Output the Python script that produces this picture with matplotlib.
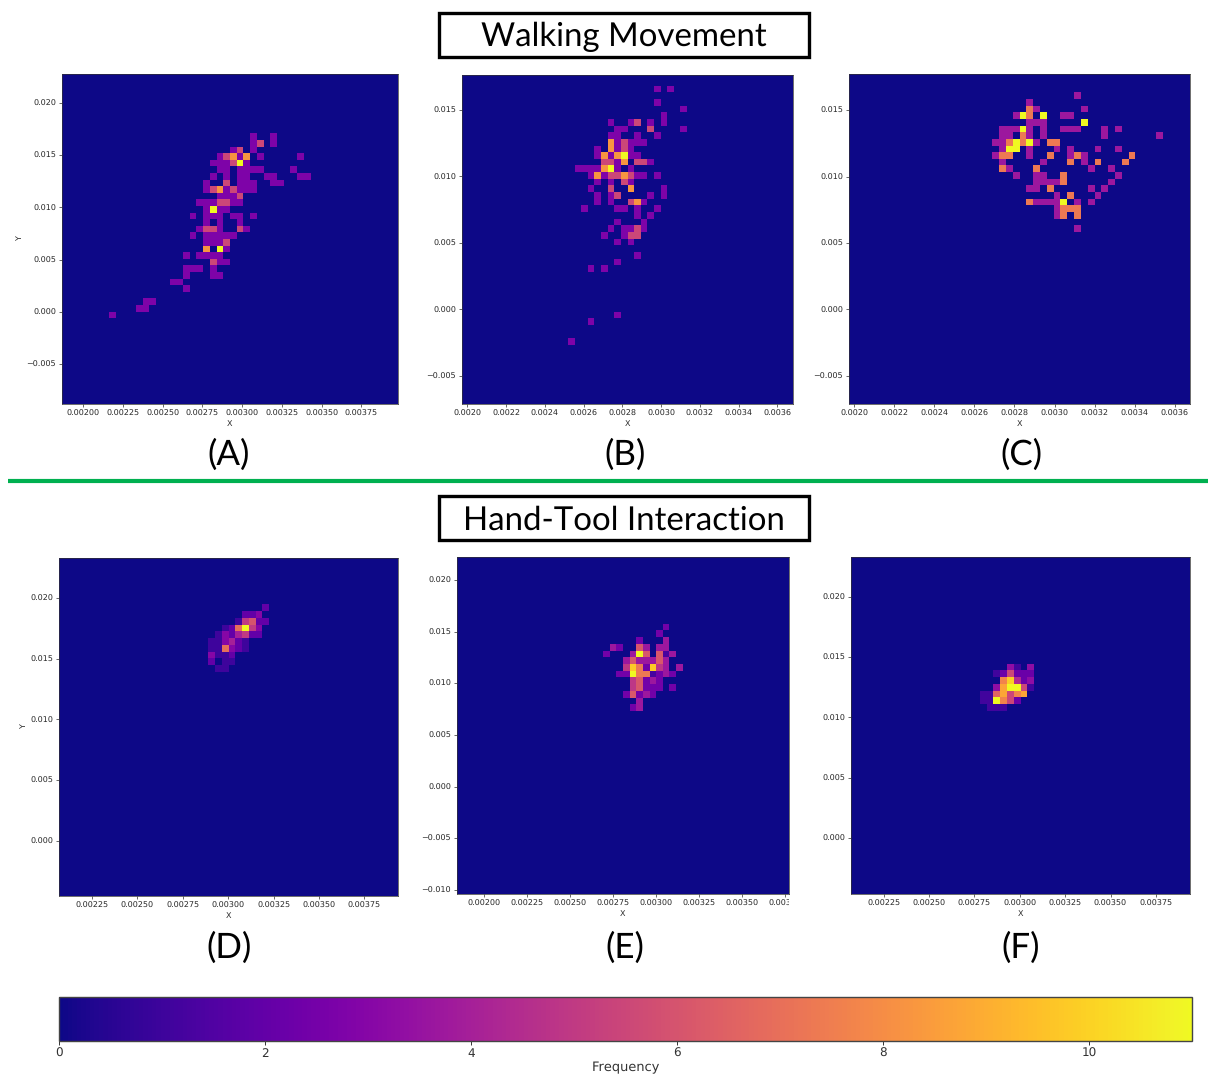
#!/usr/bin/env python3
# -*- coding: utf-8 -*-
"""Heatmaps of X/Y values: walking movement vs hand-tool interaction."""

import numpy as np
import matplotlib
matplotlib.use("Agg")
import matplotlib.pyplot as plt
from matplotlib.cm import ScalarMappable
from matplotlib.colors import Normalize
from matplotlib.patches import Rectangle
from matplotlib.transforms import Bbox

plt.rcParams['text.hinting'] = 'no_hinting'
plt.rcParams['text.hinting_factor'] = 1

W, H = 1208, 1075
N_BINS = 50

# non-empty rows of each histogram: (row from top, first column, counts in hex)
cells_a = [
    (9, 28, "1001"), (10, 28, "1201"), (11, 25, "1201"),
    (12, 23, "1231301000001"), (13, 22, "111241"), (14, 23, "110111100001"),
    (15, 22, "101011001100011"), (16, 21, "100201110011"), (17, 21, "12312111"),
    (18, 23, "1112"), (19, 20, "1112211"), (20, 21, "1411"),
    (21, 19, "1011101101"), (22, 21, "101001"), (23, 20, "12210021"),
    (24, 19, "1011111"), (25, 21, "1112"), (26, 21, "3041"),
    (27, 18, "101111"), (28, 22, "211"), (29, 18, "11101"),
    (30, 18, "100011"), (31, 16, "11"), (32, 18, "1"),
    (34, 12, "11"), (35, 11, "11"), (36, 7, "1"),
]
cells_b = [
    (1, 29, "101"), (3, 29, "1"), (4, 33, "1"), (5, 30, "1"),
    (6, 22, "100120101"), (7, 23, "11000200001"), (8, 22, "11001001"),
    (9, 22, "312111"), (10, 20, "103121"), (11, 20, "1313411"),
    (12, 21, "22130221"), (13, 17, "111134101"), (14, 19, "13122321101"),
    (15, 20, "101021"), (16, 19, "100200300001"), (17, 20, "10120000101"),
    (18, 20, "10100231"), (19, 18, "100001101001"), (20, 26, "101"),
    (21, 23, "10001"), (22, 22, "101121"), (23, 21, "100122"),
    (24, 23, "101"), (26, 26, "1"), (27, 23, "1"), (28, 19, "101"),
    (35, 23, "1"), (36, 19, "1"), (39, 16, "1"),
]
cells_c = [
    (0, 33, "1"), (1, 26, "1"), (2, 26, "210000001"), (3, 24, "132030011"),
    (4, 26, "111000003"), (5, 22, "111310100111000101"),
    (6, 22, "110210100000000100000001"), (7, 21, "1123231022"),
    (8, 22, "133010001010001001"), (9, 21, "122001002001210000002"),
    (10, 22, "1000001000201020002"), (11, 22, "21000200000001001"),
    (12, 24, "1001100200000001"), (13, 27, "111120000001"),
    (14, 26, "110200000101"), (15, 30, "1020001"), (16, 26, "2111130101"),
    (17, 30, "1222"), (18, 30, "1202"), (20, 33, "1"),
]
cells_d = [
    (0, 30, "2"), (1, 27, "223"), (2, 26, "15622"), (3, 24, "127b53"),
    (4, 23, "1324522"), (5, 22, "113421"), (6, 22, "117321"),
    (7, 22, "3112"), (8, 22, "2011"), (9, 23, "11"),
]
cells_e = [
    (0, 31, "2"), (1, 30, "2"), (2, 27, "20003"), (3, 23, "320053033"),
    (4, 22, "20003950513"), (5, 25, "3533353"), (6, 25, "486284303"),
    (7, 24, "229661232"), (8, 26, "45232"), (9, 26, "4522202"),
    (10, 25, "25232"), (11, 27, "3"), (12, 26, "23"),
]
cells_f = [
    (0, 23, "3103"), (1, 21, "125222"), (2, 22, "79423"), (3, 21, "38aa51"),
    (4, 19, "1168578"), (5, 19, "11a752"), (6, 20, "111"),
]
all_cells = [cells_a, cells_b, cells_c, cells_d, cells_e, cells_f]

panel_vmax = [4, 4, 3, 11, 9, 10]
panel_names = ["(A)", "(B)", "(C)", "(D)", "(E)", "(F)"]
section_titles = ["Walking Movement", "Hand-Tool Interaction"]

# axis limits
x_limits = [(0.001867, 0.00398), (0.001972, 0.003681), (0.001974, 0.003676),
            (0.002069, 0.003935), (0.00184, 0.003774), (0.00207, 0.003938)]
y_limits = [(-0.00883, 0.02278), (-0.00711, 0.01763), (-0.00711, 0.01771),
            (-0.00453, 0.02329), (-0.01039, 0.02223), (-0.00465, 0.02332)]
# top edge of row 0 and row height, in data units
y_tops = [0.02278, 0.017325, 0.01633, 0.01948, 0.015775, 0.014465]
y_steps = [0.000632, 0.0005, 0.0005, 0.000556, 0.00065, 0.000561]
x_ticks = [np.arange(0.0020, 0.0039, 0.00025), np.arange(0.0020, 0.00365, 0.0002),
           np.arange(0.0020, 0.00365, 0.0002), np.arange(0.00225, 0.0039, 0.00025),
           np.arange(0.0020, 0.0039, 0.00025), np.arange(0.00225, 0.0039, 0.00025)]
x_formats = ["%.5f", "%.4f", "%.4f", "%.5f", "%.5f", "%.5f"]
y_ticks = [np.arange(-0.005, 0.0201, 0.005), np.arange(-0.005, 0.0151, 0.005),
           np.arange(-0.005, 0.0151, 0.005), np.arange(0, 0.0201, 0.005),
           np.arange(-0.010, 0.0201, 0.005), np.arange(0, 0.0201, 0.005)]

# left, top, right, bottom in pixels
boxes = [(62, 74, 398, 404), (462, 75, 793, 404), (849, 74, 1190, 404),
         (59, 558, 398, 896), (457, 557, 789, 894), (851, 557, 1190, 894)]
name_pos = [(229, 455), (625, 455), (1021, 455), (229, 948), (625, 948), (1021, 948)]
TICK_SIZE = 5.7


def add_px_axes(fig, box):
    left, top, right, bottom = box
    return fig.add_axes([left / W, 1 - bottom / H, (right - left) / W, (bottom - top) / H])


def build_grid(cells):
    n_rows = max(c[0] for c in cells) + 1
    grid = np.zeros((n_rows, N_BINS))
    for row, col, counts in cells:
        for i, ch in enumerate(counts):
            grid[row, col + i] = int(ch, 16)
    return grid


def draw_panel(fig, idx):
    ax = add_px_axes(fig, boxes[idx])
    grid = build_grid(all_cells[idx])
    xlim = x_limits[idx]
    ylim = y_limits[idx]
    x_edges = np.linspace(xlim[0], xlim[1], N_BINS + 1)
    y_edges = y_tops[idx] - y_steps[idx] * np.arange(grid.shape[0] + 1)

    ax.set_facecolor(plt.cm.plasma(0.0))
    ax.pcolormesh(x_edges, y_edges, grid, cmap="plasma", vmin=0, vmax=panel_vmax[idx])
    ax.set_xlim(xlim)
    ax.set_ylim(ylim)

    ax.set_xticks(x_ticks[idx])
    ax.set_xticklabels([x_formats[idx] % t for t in x_ticks[idx]])
    ax.set_yticks(y_ticks[idx])
    ax.set_yticklabels([("%.3f" % t).replace("-", "\u2212") for t in y_ticks[idx]])
    ax.tick_params(labelsize=TICK_SIZE, length=2.2, width=0.5, pad=2, colors="#2a2a2a")
    ax.set_xlabel("X", fontsize=TICK_SIZE, labelpad=1.5, color="#2a2a2a")
    if idx in (0, 3):
        ax.set_ylabel("Y", fontsize=TICK_SIZE, labelpad=2, color="#2a2a2a")
    for spine in ax.spines.values():
        spine.set_linewidth(0.5)
        spine.set_color("#333333")
    if idx == 4:
        # the rightmost label of this panel is cut off in the layout
        for label in ax.get_xticklabels():
            label.set_clip_box(Bbox.from_extents(0, 0, 789, H))
            label.set_clip_on(True)
    return ax


def draw_overlay(fig):
    ov = fig.add_axes([0, 0, 1, 1], zorder=5)
    ov.set_xlim(0, W)
    ov.set_ylim(H, 0)
    ov.axis("off")
    for title, top in zip(section_titles, [13, 496]):
        ov.add_patch(Rectangle((438.5, top), 370, 44, fill=False, ec="black", lw=2.4))
        ov.text(624, top + 24, title, ha="center", va="center", fontsize=24,
                family="Lato", color="black")
    for name, (x, y) in zip(panel_names, name_pos):
        ov.text(x, y, name, ha="center", va="center", fontsize=25, family="Lato", color="black")
    ov.plot([8, W], [481, 481], color="#00b050", lw=3, solid_capstyle="butt")


def draw_colorbar(fig):
    cax = add_px_axes(fig, (59, 997, 1192, 1041))
    sm = ScalarMappable(norm=Normalize(0, 11), cmap="plasma")
    cbar = fig.colorbar(sm, cax=cax, orientation="horizontal")
    cbar.set_ticks([0, 2, 4, 6, 8, 10])
    cbar.ax.tick_params(labelsize=8.5, length=3, width=0.7, pad=2, colors="#333333")
    cbar.set_label("Frequency", fontsize=9.5, labelpad=1, color="#333333")
    cbar.outline.set_linewidth(1)
    cbar.outline.set_edgecolor("#444444")


def main():
    fig = plt.figure(figsize=(W / 100, H / 100), dpi=100)
    for idx in range(6):
        draw_panel(fig, idx)
    draw_colorbar(fig)
    draw_overlay(fig)
    fig.savefig("out.png", dpi=100)


if __name__ == "__main__":
    main()
